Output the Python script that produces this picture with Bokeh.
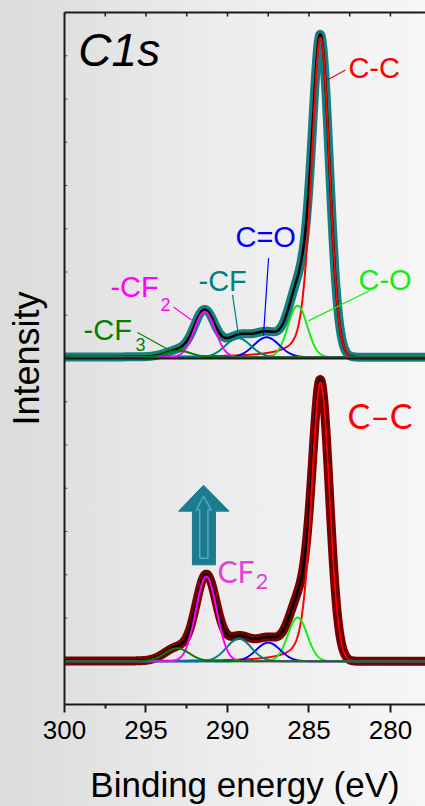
import numpy as np
from bokeh.plotting import figure
from bokeh.models import Range1d, FixedTicker, LinearAxis, Span
from bokeh.core.properties import value
from bokeh.embed import file_html
from bokeh.resources import INLINE

# ---------------- data ----------------
components = ["C-C", "C-O", "C=O", "-CF", "-CF2", "-CF3"]
comp_colors = ["#ff0000", "#11ee11", "#0000ff", "#008080", "#ff00ff", "#008000"]
# Lorentzian tail fraction on the high binding-energy side (asymmetric C-C line)
tail_frac = [0.35, 0.0, 0.0, 0.0, 0.0, 0.0]

# top panel, binding energy (eV), height, FWHM (eV)
top_center = [284.3, 285.7, 287.6, 289.35, 291.4, 293.0]
top_height = [7.39, 1.19, 0.46, 0.44, 1.05, 0.15]
top_fwhm = [1.3, 1.4, 1.85, 1.85, 1.5, 1.8]
top_base = 8.03

# bottom panel
bot_center = [284.3, 285.7, 287.5, 289.3, 291.3, 293.1]
bot_height = [6.45, 1.01, 0.43, 0.52, 1.96, 0.30]
bot_fwhm = [1.3, 1.4, 1.75, 1.8, 1.5, 1.8]
bot_base = 1.0

x_major = [300, 295, 290, 285, 280]
x_minor = [297.5, 292.5, 287.5, 282.5, 277.5]
y_ticks = list(range(0, 17))

FONT = "Liberation Sans"
PX_PER_UNIT = 43.6


def dy(font_px):
    # baseline placement correction, proportional to font size
    return 0.33 * font_px / PX_PER_UNIT


def profile(x, c, h, w, eta):
    g = np.exp(-4 * np.log(2) * ((x - c) / w) ** 2)
    lo = 1.0 / (1.0 + 4 * ((x - c) / w) ** 2)
    mix = np.where(x > c, (1 - eta) * g + eta * lo, g)
    return h * mix


x = np.linspace(300, 277.8, 1111)

X0, X1 = 300, 277.85
p = figure(width=425, height=806, output_backend="svg", toolbar_location=None,
           x_range=Range1d(X0, X1), y_range=Range1d(0, 16),
           min_border_left=64, min_border_right=0, min_border_top=12,
           min_border_bottom=96)
p.border_fill_color = None
p.background_fill_color = None
p.outline_line_color = None
p.styles = {"background": "linear-gradient(to right, #dbdbdb 0%, #ececec 50%, #f6f6f6 100%)"}
p.xgrid.visible = False
p.ygrid.visible = False

AX = "#1a1a1a"
# bottom axis
xa = p.xaxis[0]
xa.ticker = FixedTicker(ticks=x_major, minor_ticks=x_minor)
xa.major_tick_out = 8
xa.major_tick_in = 0
xa.minor_tick_out = 4
xa.minor_tick_in = 0
xa.axis_line_width = 2
xa.major_tick_line_width = 2
xa.minor_tick_line_width = 2
xa.axis_line_color = AX
xa.major_tick_line_color = AX
xa.minor_tick_line_color = AX
xa.major_label_text_font = FONT
xa.major_label_text_font_size = "26px"
xa.major_label_text_color = "black"
xa.major_label_standoff = 8
xa.axis_label = "Binding energy (eV)"
xa.axis_label_text_font = FONT
xa.axis_label_text_font_size = "35px"
xa.axis_label_text_font_style = "normal"
xa.axis_label_text_color = "black"
xa.axis_label_standoff = 23

# left axis (no labels)
ya = p.yaxis[0]
ya.ticker = FixedTicker(ticks=[], minor_ticks=[])
ya.axis_line_width = 2
ya.axis_line_color = AX
ya.axis_label = "Intensity"
ya.axis_label_text_font = FONT
ya.axis_label_text_font_size = "36px"
ya.axis_label_text_font_style = "normal"
ya.axis_label_text_color = "black"
ya.axis_label_standoff = 18

# top border
ta = LinearAxis(ticker=FixedTicker(ticks=[], minor_ticks=[]),
                axis_line_width=2, axis_line_color=AX)
p.add_layout(ta, "above")

# small inward ticks on top and left borders
top_ticks = x_major + x_minor
tick_len_y = 4 / PX_PER_UNIT
tick_len_x = 3 / 16.3
p.segment(x0=top_ticks, y0=[16] * len(top_ticks), x1=top_ticks,
          y1=[16 - tick_len_y] * len(top_ticks), line_color=AX, line_width=1.5)
p.segment(x0=[X0] * len(y_ticks), y0=y_ticks, x1=[X0 - tick_len_x] * len(y_ticks),
          y1=y_ticks, line_color="#555555", line_width=1)

# separator between panels
p.add_layout(Span(location=8, dimension="width", line_color=AX, line_width=2))

# ---------------- curves ----------------
def draw_panel(centers, heights, fwhms, base, data_color, data_width):
    comps = [profile(x, c, h, w, e) for c, h, w, e in zip(centers, heights, fwhms, tail_frac)]
    env = np.sum(comps, axis=0)
    p.line(x, env + base, line_color=data_color, line_width=data_width, line_join="round")
    p.line(x, env + base, line_color="black", line_width=2.5)
    for comp, col in zip(comps, comp_colors):
        p.line(x, comp + base, line_color=col, line_width=2)


draw_panel(top_center, top_height, top_fwhm, top_base, "#137f80", 9)
draw_panel(bot_center, bot_height, bot_fwhm, bot_base, "#7a0000", 9)

# ---------------- annotations ----------------
p.text(x=[299.15], y=[14.79 + dy(46)], text=["C1s"], text_font=value(FONT), text_font_size=value("46px"),
       text_font_style="italic", text_color="black", text_baseline="alphabetic", text_align="left")

lab_x = [282.58, 289.51, 281.96, 291.78, 297.18, 298.83]
lab_y = [14.49, 10.59, 9.60, 9.58, 9.44, 8.44]
lab_t = ["C-C", "C=O", "C-O", "-CF", "-CF", "-CF"]
lab_c = ["#ff0000", "#0000ff", "#11ee11", "#008080", "#ff00ff", "#008000"]
p.text(x=lab_x, y=[v + dy(29) for v in lab_y], text=lab_t, text_color=lab_c, text_font=value(FONT),
       text_font_size=value("29px"), text_baseline="alphabetic", text_align="left")
p.text(x=[294.11, 295.64], y=[9.12 + dy(18), 8.18 + dy(18)], text=["2", "3"],
       text_color=["#ff00ff", "#008000"], text_font=value(FONT), text_font_size=value("18px"),
       text_baseline="alphabetic", text_align="left")

lx0 = [282.76, 287.48, 281.23, 289.69, 293.31, 295.52]
ly0 = [14.67, 10.32, 9.58, 9.47, 9.19, 8.60]
lx1 = [283.87, 287.79, 285.03, 289.33, 292.21, 293.50]
ly1 = [14.44, 8.53, 8.87, 8.55, 8.89, 8.18]
p.segment(x0=lx0, y0=ly0, x1=lx1, y1=ly1, line_color=lab_c, line_width=1.2)

# bottom labels
p.text(x=[282.64], y=[6.42 + dy(34)], text=["C\u2013C"], text_color="#ff0000", text_font=value("Lato"),
       text_font_size=value("34px"), text_baseline="alphabetic", text_align="left")
p.text(x=[290.61], y=[2.87 + dy(30)], text=["CF"], text_color="#e63fd9", text_font=value("Lato"),
       text_font_size=value("30px"), text_baseline="alphabetic", text_align="left")
p.text(x=[288.28], y=[2.68 + dy(22)], text=["2"], text_color="#e63fd9", text_font=value("Lato"),
       text_font_size=value("22px"), text_baseline="alphabetic", text_align="left")

# block arrow (increase of CF2)
ax = [291.47, 293.0, 292.15, 292.15, 290.74, 290.74, 289.9]
ay = [5.07, 4.47, 4.47, 3.23, 3.23, 4.47, 4.47]
p.patch(ax, ay, fill_color="#1e7b8e", line_color="#1e7b8e", line_width=1)
ix = [291.47, 291.9, 291.7, 291.7, 291.2, 291.2, 291.0, 291.47]
iy = [4.82, 4.50, 4.50, 3.38, 3.38, 4.50, 4.50, 4.82]
p.line(ix, iy, line_color="#46aecb", line_width=1.5)

open("out.html", "w").write(file_html(p, INLINE))
